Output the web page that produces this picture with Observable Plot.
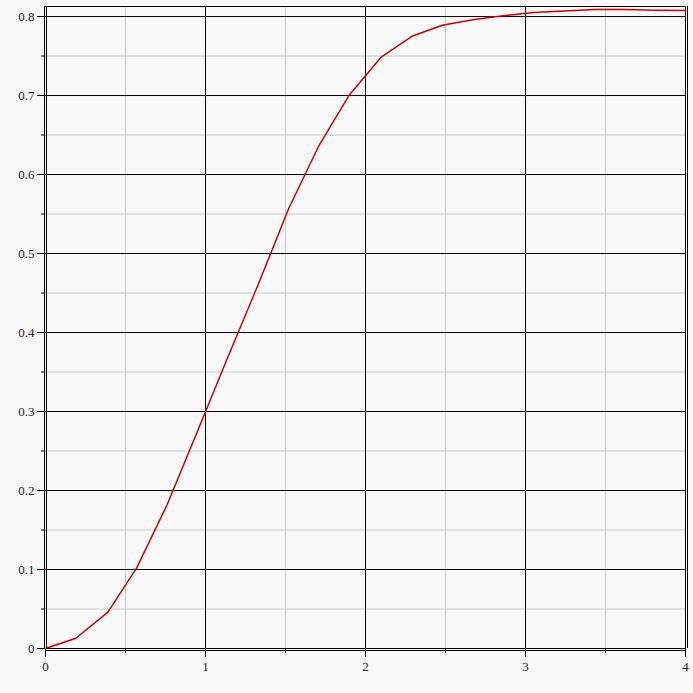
<!DOCTYPE html>
<html>
<head>
<meta charset="utf-8">
<script src="https://cdn.jsdelivr.net/npm/d3@7"></script>
<script src="https://cdn.jsdelivr.net/npm/@observablehq/plot@0.6"></script>
<style>
  html, body { margin: 0; padding: 0; background: #f8f8f8; }
  #chart svg { display: block; }
  #chart svg text { font-family: 'Liberation Serif', 'DejaVu Serif', serif; font-size: 13px; }
</style>
</head>
<body>
<div id="chart"></div>
<script>
// Curve samples
const xs = [0, 0.19, 0.39, 0.57, 0.76, 0.95, 1.14, 1.33, 1.52, 1.71, 1.90, 2.10, 2.29, 2.48, 2.67, 2.86, 3.05, 3.24, 3.43, 3.62, 3.81, 4.0];
const ys = [0, 0.013, 0.046, 0.102, 0.182, 0.275, 0.369, 0.461, 0.557, 0.637, 0.701, 0.749, 0.775, 0.789, 0.796, 0.801, 0.805, 0.807, 0.809, 0.809, 0.808, 0.8075];

// Axes / grid
const xDomain = [0, 4];
const yDomain = [0, 0.8127];
const xMajor = [0, 1, 2, 3, 4];
const xMinor = [0.5, 1.5, 2.5, 3.5];
const yMajor = [0, 0.1, 0.2, 0.3, 0.4, 0.5, 0.6, 0.7, 0.8];
const yMinor = [0.05, 0.15, 0.25, 0.35, 0.45, 0.55, 0.65, 0.75];
const xTickLabels = ["0", "1", "2", "3", "4"];
const yTickLabels = ["0", "0.1", "0.2", "0.3", "0.4", "0.5", "0.6", "0.7", "0.8"];

const pts = xs.map((x, i) => ({x, y: ys[i]}));
const xInner = xMajor.slice(1, -1);
const yInner = yMajor.slice(1);
const font = "'Liberation Serif', 'DejaVu Serif', serif";

const chart = Plot.plot({
  width: 693,
  height: 693,
  marginLeft: 45,
  marginRight: 8,
  marginTop: 6,
  marginBottom: 45,
  x: {domain: xDomain},
  y: {domain: yDomain},
  style: {
    background: "#f8f8f8",
    fontFamily: font,
    fontSize: "13px",
    color: "#222"
  },
  marks: [
    // minor grid
    Plot.ruleX(xMinor, {stroke: "#c8c8c8", strokeWidth: 1}),
    Plot.ruleY(yMinor, {stroke: "#c8c8c8", strokeWidth: 1}),
    // major grid
    Plot.ruleX(xInner, {stroke: "black", strokeWidth: 1}),
    Plot.ruleY(yInner, {stroke: "black", strokeWidth: 1}),
    // frame (double lines on left, bottom, right)
    Plot.ruleX([xDomain[0]], {stroke: "black", dx: -1}),
    Plot.ruleX([xDomain[0]], {stroke: "black", dx: 1}),
    Plot.ruleX([xDomain[1]], {stroke: "black", dx: 0}),
    Plot.ruleX([xDomain[1]], {stroke: "black", dx: 2}),
    Plot.ruleY([yDomain[0]], {stroke: "black", dy: 0}),
    Plot.ruleY([yDomain[0]], {stroke: "black", dy: 2}),
    Plot.ruleY([yDomain[1]], {stroke: "black"}),
    // axes
    Plot.axisY(yMajor, {anchor: "left", tickSize: 8, tickPadding: 3, label: null,
      fontSize: 13, fontFamily: font,
      tickFormat: (d) => yTickLabels[yMajor.indexOf(d)], stroke: "black"}),
    Plot.axisY(yMinor, {anchor: "left", tickSize: 4, label: null, tickFormat: () => "", stroke: "black"}),
    Plot.axisX(xMajor, {anchor: "bottom", tickSize: 9, tickPadding: 4, label: null,
      fontSize: 13, fontFamily: font,
      tickFormat: (d) => xTickLabels[xMajor.indexOf(d)], stroke: "black"}),
    Plot.axisX(xMinor, {anchor: "bottom", tickSize: 5, label: null, tickFormat: () => "", stroke: "black"}),
    // curve
    Plot.line(pts, {x: "x", y: "y", stroke: "#cc0000", strokeWidth: 1.5})
  ]
});
document.getElementById("chart").appendChild(chart);
</script>
</body>
</html>
